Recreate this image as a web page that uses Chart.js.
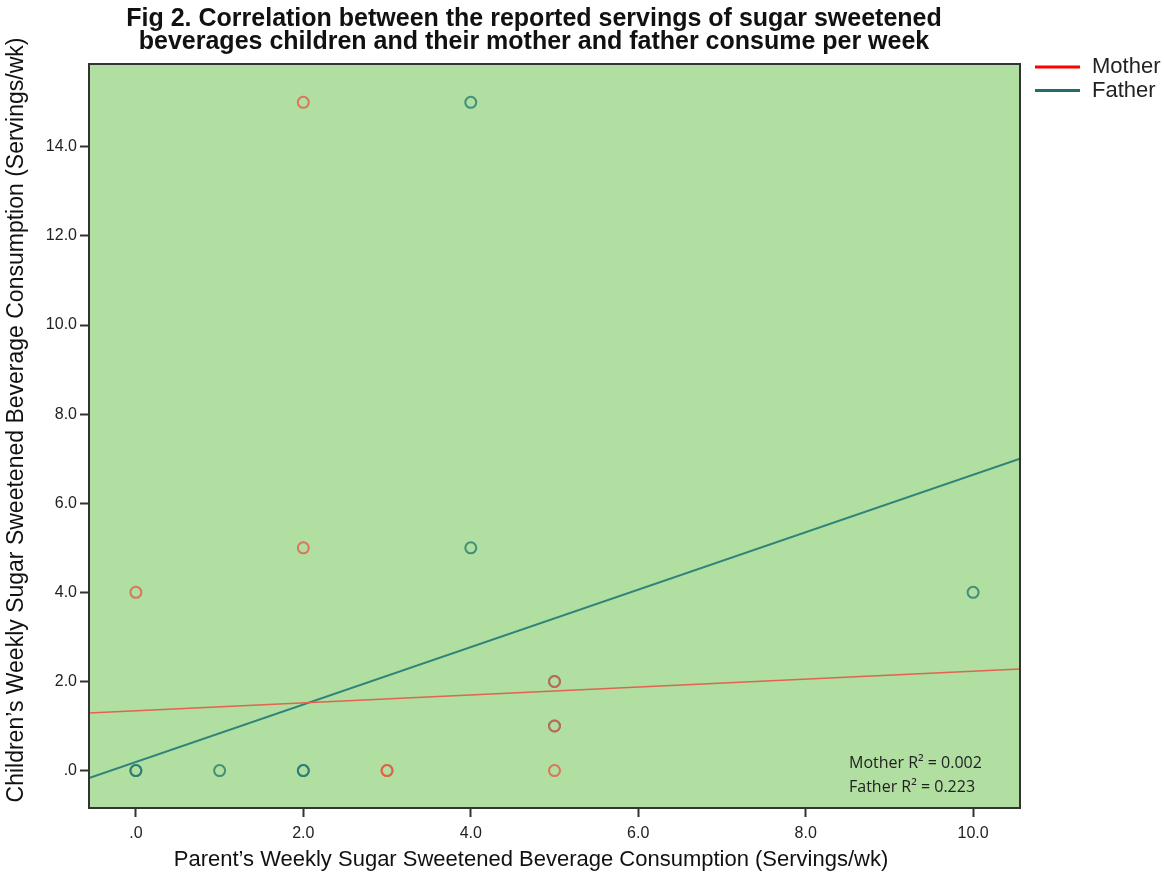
<!DOCTYPE html>
<html>
<head>
<meta charset="utf-8">
<script src="https://cdn.jsdelivr.net/npm/chart.js@4.4.1/dist/chart.umd.min.js"></script>
<style>
  html, body { margin: 0; padding: 0; background: #fff; }
  #wrap { width: 1164px; height: 877px; position: relative; }
</style>
</head>
<body>
<div id="wrap"><canvas id="chart"></canvas></div>
<script>
// values
const titleLines = [
  "Fig 2. Correlation between the reported servings of sugar sweetened",
  "beverages children and their mother and father consume per week",
]
const xTitle = "Parent\u2019s Weekly Sugar Sweetened Beverage Consumption (Servings/wk)"
const yTitle = "Children\u2019s Weekly Sugar Sweetened Beverage Consumption (Servings/wk)"

const motherX = [0, 2, 2, 3, 3, 5, 5, 5]
const motherY = [4, 15, 5, 0, 0, 0, 2, 1]
const fatherX = [0, 0, 1, 2, 2, 4, 4, 10, 5, 5]
const fatherY = [0, 0, 0, 0, 0, 15, 5, 4, 2, 1]

// fit line ends at the plot edges
const motherFitX = [-0.56, 10.56]
const motherFitY = [1.29, 2.28]
const fatherFitX = [-0.56, 10.56]
const fatherFitY = [-0.17, 7.0]

const legendNames = ["Mother", "Father"]
const legendColors = ["#ff0000", "#1f6e6e"]
const rsqLines = ["Mother R\u00b2 = 0.002", "Father R\u00b2 = 0.223"]

const pts = (xs, ys) => xs.map((x, i) => ({ x, y: ys[i] }))
const tickText = (v) => (v === 0 ? ".0" : v.toFixed(1))

const MOTHER = "rgba(226, 92, 72, 0.8)"
const FATHER = "rgba(36, 124, 112, 0.8)"
const FONT = `"Liberation Sans", Arial, sans-serif`

const extras = {
  id: "extras",
  beforeDraw(chart) {
    const { ctx, chartArea: a } = chart
    ctx.save()
    ctx.fillStyle = "#b1dea1"
    ctx.fillRect(a.left, a.top, a.right - a.left, a.bottom - a.top)
    ctx.restore()
  },
  afterDraw(chart) {
    const { ctx, chartArea: a } = chart
    ctx.save()
    // box around the plot
    ctx.strokeStyle = "#333"
    ctx.lineWidth = 2
    ctx.strokeRect(a.left, a.top, a.right - a.left, a.bottom - a.top)

    // title, SPSS centres it a bit left of the plot middle
    ctx.fillStyle = "#111"
    ctx.font = `bold 25px ${FONT}`
    ctx.textAlign = "center"
    ctx.textBaseline = "alphabetic"
    titleLines.forEach((t, i) => ctx.fillText(t, 534, 26 + i * 22.5))

    // axis titles
    ctx.fillStyle = "#111"
    ctx.font = `22px ${FONT}`
    ctx.textBaseline = "middle"
    ctx.fillText(xTitle, 531, 860)
    ctx.save()
    ctx.font = `23px ${FONT}`
    ctx.translate(17, 420)
    ctx.rotate(-Math.PI / 2)
    ctx.fillText(yTitle, 0, 0)
    ctx.restore()

    // legend
    ctx.textAlign = "left"
    ctx.font = `22px ${FONT}`
    legendNames.forEach((name, i) => {
      const y = a.top + 3 + i * 23.5
      ctx.strokeStyle = legendColors[i]
      ctx.lineWidth = 3
      ctx.beginPath()
      ctx.moveTo(a.right + 15, y)
      ctx.lineTo(a.right + 60, y)
      ctx.stroke()
      ctx.fillStyle = "#222"
      ctx.fillText(name, a.right + 72, y)
    })

    // R squared note
    ctx.font = `16px "Open Sans", sans-serif`
    ctx.fillStyle = "#222"
    rsqLines.forEach((t, i) => ctx.fillText(t, a.left + 760, a.bottom - 45 + i * 24))
    ctx.restore()
  },
}

const axisBits = {
  border: { color: "#333", width: 2 },
  grid: { drawOnChartArea: false, tickLength: 9, tickColor: "#333", tickWidth: 2 },
}

new Chart(document.getElementById("chart"), {
  type: "scatter",
  data: {
    datasets: [
      {
        label: "Mother",
        data: pts(motherX, motherY),
        borderColor: MOTHER,
        backgroundColor: "transparent",
        pointRadius: 5.5,
        pointBorderWidth: 2,
      },
      {
        label: "Father",
        data: pts(fatherX, fatherY),
        borderColor: FATHER,
        backgroundColor: "transparent",
        pointRadius: 5.5,
        pointBorderWidth: 2,
      },
      {
        label: "Mother fit",
        type: "line",
        data: pts(motherFitX, motherFitY),
        borderColor: "#e0644f",
        borderWidth: 1.5,
        pointRadius: 0,
      },
      {
        label: "Father fit",
        type: "line",
        data: pts(fatherFitX, fatherFitY),
        borderColor: "#2f8479",
        borderWidth: 2,
        pointRadius: 0,
      },
    ],
  },
  options: {
    responsive: true,
    maintainAspectRatio: false,
    animation: false,
    layout: { padding: { top: 64, right: 144, left: 0, bottom: 0 } },
    scales: {
      x: {
        type: "linear",
        min: -0.56,
        max: 10.56,
        ...axisBits,
        afterFit: (s) => { s.height = 69 },
        ticks: {
          stepSize: 2,
          includeBounds: false,
          padding: 7,
          color: "#222",
          font: { family: "Liberation Sans", size: 16 },
          callback: tickText,
        },
      },
      y: {
        type: "linear",
        min: -0.84,
        max: 15.86,
        ...axisBits,
        afterFit: (s) => { s.width = 89 },
        ticks: {
          stepSize: 2,
          includeBounds: false,
          padding: 3,
          color: "#222",
          font: { family: "Liberation Sans", size: 16 },
          callback: tickText,
        },
      },
    },
    plugins: {
      legend: { display: false },
      tooltip: { enabled: false },
    },
  },
  plugins: [extras],
})
</script>
</body>
</html>
